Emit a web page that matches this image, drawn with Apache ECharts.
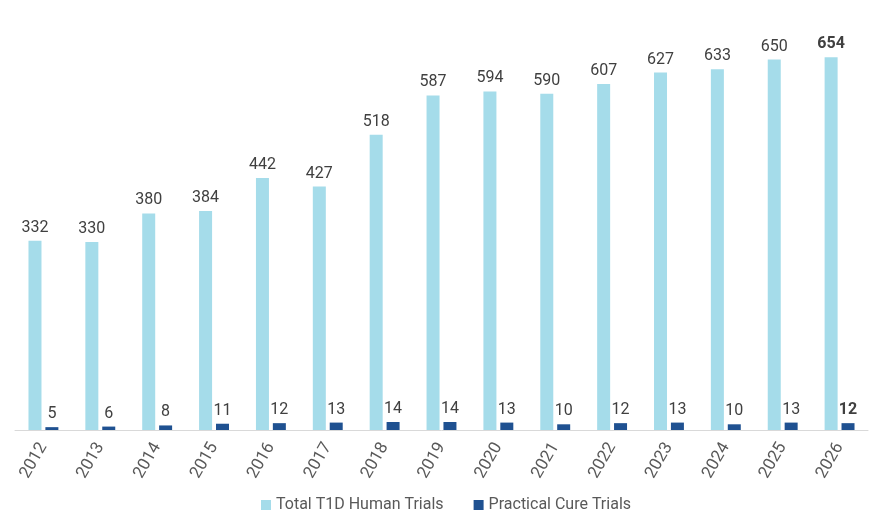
<!DOCTYPE html>
<html lang="en">
<head>
    <meta charset="UTF-8"/>
    <style>
        html, body { margin: 0; padding: 0; background: #ffffff; }
    </style>
</head>
<body>

<div id="main" style="width: 874px;height:522px;"></div>

<script src="https://cdn.jsdelivr.net/npm/echarts@6.0.0/dist/echarts.min.js"></script>
<script type="text/javascript">

    // data
    var years = ['2012','2013','2014','2015','2016','2017','2018','2019','2020','2021','2022','2023','2024','2025','2026'];
    var totalTrials = [332, 330, 380, 384, 442, 427, 518, 587, 594, 590, 607, 627, 633, 650, 654];
    var cureTrials = [5, 6, 8, 11, 12, 13, 14, 14, 13, 10, 12, 13, 10, 13, 12];
    var seriesNames = ['Total T1D Human Trials', 'Practical Cure Trials'];

    // last year gets a bold label
    function withBoldLast(values) {
        return values.map(function (v, i) {
            if (i === values.length - 1) {
                return { value: v, label: { fontWeight: 'bold' } };
            }
            return v;
        });
    }

    DrawEChart(echarts);

    function DrawEChart(echarts) {
        var myChart = echarts.init(document.getElementById('main'));

        var labelStyle = {
            show: true,
            position: 'top',
            distance: 5,
            color: '#404040',
            fontSize: 16,
            fontFamily: 'Roboto'
        };

        var options = {
            animation: false,
            textStyle: { fontFamily: 'Roboto' },
            grid: {
                left: 15,
                right: 6,
                top: 31,
                bottom: 92
            },
            legend: {
                data: seriesNames,
                bottom: 4,
                left: 256,
                itemWidth: 10,
                itemHeight: 10,
                itemGap: 30,
                icon: 'rect',
                textStyle: { color: '#595959', fontSize: 16, fontFamily: 'Roboto' }
            },
            xAxis: {
                type: 'category',
                data: years,
                axisLine: { lineStyle: { color: '#d9d9d9', width: 1 } },
                axisTick: { show: false },
                axisLabel: {
                    rotate: 60,
                    color: '#595959',
                    fontSize: 17,
                    fontFamily: 'Roboto',
                    margin: 14
                }
            },
            yAxis: {
                type: 'value',
                min: 0,
                max: 700,
                show: false,
                splitLine: { show: false }
            },
            series: [
                {
                    name: seriesNames[0],
                    type: 'bar',
                    data: withBoldLast(totalTrials),
                    barWidth: 13,
                    barGap: '30%',
                    itemStyle: { color: '#a5dcea' },
                    label: labelStyle
                },
                {
                    name: seriesNames[1],
                    type: 'bar',
                    data: withBoldLast(cureTrials),
                    barWidth: 13,
                    barGap: '30%',
                    itemStyle: { color: '#1f5191' },
                    label: labelStyle
                }
            ]
        };

        myChart.setOption(options);
    }

</script>

</body>
</html>
